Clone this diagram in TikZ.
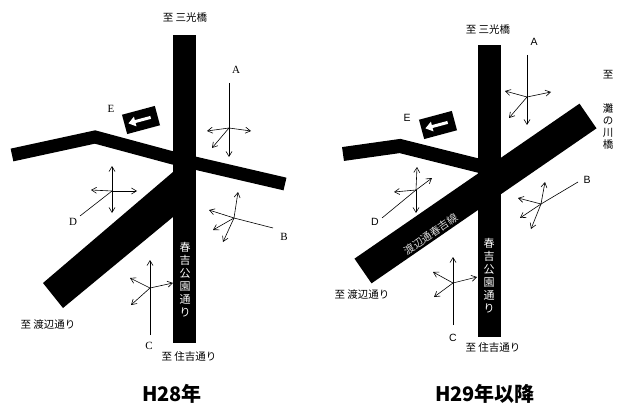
\documentclass[tikz,border=0pt]{standalone}
\usepackage{fontspec}
\setmainfont{Liberation Serif}
\newfontfamily\jp{Noto Sans CJK JP}
\newfontfamily\sansf{Liberation Sans}
\usetikzlibrary{arrows.meta}
\tikzset{
  road/.style={line width=#1, line join=miter, draw=black},
  arr/.style={-{Straight Barb[length=5pt,width=6pt]}, line width=0.6pt},
  ln/.style={line width=0.6pt},
  lab/.style={font=\jp\fontsize{10.5}{12}\selectfont, inner sep=1pt},
  let/.style={font=\fontsize{11}{12}\selectfont, inner sep=1pt},
  lets/.style={font=\sansf\fontsize{10.5}{12}\selectfont, inner sep=1pt},
  wv/.style={font=\jp\fontsize{11}{13}\selectfont, text=white, align=center, inner sep=0pt},
  ttl/.style={font=\jp\bfseries\fontsize{20}{24}\selectfont, inner sep=0pt},
}
\begin{document}
\begin{tikzpicture}[x=1pt,y=-1pt]
\useasboundingbox (0,0) rectangle (630,420);
% ===== Left diagram =====
\draw[road=13pt] (12,155) -- (95,137) -- (173,158) -- (285,184);
\fill (173,172) -- (173,217) -- (63,308) -- (43,283) -- cycle;
\fill (173,35) rectangle (196,343);
\node[wv] (lroad) at (185,280) {春\\吉\\公\\園\\通\\り};
% E sign
\begin{scope}[shift={(141,120)},rotate=15]
\fill (-17,-10) rectangle (17,10);
\fill[white] (-9,-1.5) rectangle (10,1.5);
\fill[white] (-13,0) -- (-6,-5) -- (-6,5) -- cycle;
\end{scope}
\node[let] (lE) at (111,109) {E};
\node[let] (lA) at (236,70) {A};
\node[let] (lB) at (284,237) {B};
\node[let] (lC) at (149,346) {C};
\node[let] (lD) at (73,222) {D};
\node[lab] (l1) at (185,18) {至 三光橋};
\node[lab] (l2) at (48,325) {至 渡辺通り};
\node[lab] (l3) at (189,357) {至 住吉通り};
% A
\coordinate (lAc) at (229,128); \coordinate (lAs) at (229,83);
\draw[ln] (lAs) -- (lAc);
\draw[arr] (lAc) -- (229,157);
\draw[arr] (lAc) -- (207,131);
\draw[arr] (lAc) -- (251,131);
\draw[arr] (lAc) -- (212,148);
% B
\coordinate (lBc) at (234,218); \coordinate (lBs) at (273,228);
\draw[ln] (lBs) -- (lBc);
\draw[arr] (lBc) -- (209,210);
\draw[arr] (lBc) -- (238,192);
\draw[arr] (lBc) -- (213,230);
\draw[arr] (lBc) -- (223,242);
% C
\coordinate (lCc) at (150,288); \coordinate (lCs) at (150,335);
\draw[ln] (lCs) -- (lCc);
\draw[arr] (lCc) -- (150,260);
\draw[arr] (lCc) -- (130,278);
\draw[arr] (lCc) -- (173,283);
\draw[arr] (lCc) -- (131,305);
% D
\coordinate (lDc) at (112,191); \coordinate (lDs) at (80,216);
\draw[ln] (lDs) -- (lDc);
\draw[arr] (lDc) -- (112,166);
\draw[arr] (lDc) -- (112,213);
\draw[arr] (lDc) -- (91,190);
\draw[arr] (lDc) -- (137,191);
\node[ttl] (t1) at (172,394) {H28年};
% ===== Right diagram =====
\draw[road=14pt] (343,154) -- (400,146) -- (480,166);
\fill (478,45) rectangle (501,337);
\draw[road=30pt] (363,271) -- (588,116);
\node[rotate=35, font=\jp\fontsize{10.5}{12}\selectfont, text=white!85!black, inner sep=0pt] (rdiag) at (431,234) {渡辺通春吉線};
\node[wv] (rroad) at (489,276) {春\\吉\\公\\園\\通\\り};
\begin{scope}[shift={(438,125)},rotate=15]
\fill (-17,-10) rectangle (17,10);
\fill[white] (-9,-1.5) rectangle (10,1.5);
\fill[white] (-13,0) -- (-6,-5) -- (-6,5) -- cycle;
\end{scope}
\node[lets] (rE) at (407,118) {E};
\node[lets] (rA) at (534,42) {A};
\node[lets] (rB) at (587,180) {B};
\node[lets] (rC) at (453,338) {C};
\node[lets] (rD) at (375,222) {D};
\node[lab] (r1) at (488,30) {至 三光橋};
\node[lab] (r2) at (362,295) {至 渡辺通り};
\node[lab] (r3) at (493,348) {至 住吉通り};
\node[lab] (r4) at (608,75) {至};
\node[lab, align=center] (r5) at (608,127) {灘\\の\\川\\橋};
% A
\coordinate (rAc) at (527,97); \coordinate (rAs) at (527,55);
\draw[ln] (rAs) -- (rAc);
\draw[arr] (rAc) -- (527,125);
\draw[arr] (rAc) -- (505,91);
\draw[arr] (rAc) -- (551,92);
\draw[arr] (rAc) -- (509,118);
% B
\coordinate (rBc) at (541,204); \coordinate (rBs) at (578,182);
\draw[ln] (rBs) -- (rBc);
\draw[arr] (rBc) -- (520,218);
\draw[arr] (rBc) -- (518,198);
\draw[arr] (rBc) -- (545,182);
\draw[arr] (rBc) -- (531,229);
% C
\coordinate (rCc) at (453,283); \coordinate (rCs) at (453,325);
\draw[ln] (rCs) -- (rCc);
\draw[arr] (rCc) -- (453,257);
\draw[arr] (rCc) -- (433,272);
\draw[arr] (rCc) -- (477,277);
\draw[arr] (rCc) -- (434,297);
% D
\coordinate (rDc) at (416,190); \coordinate (rDs) at (382,218);
\draw[ln] (rDs) -- (rDc);
\draw[arr] (rDc) -- (432,178);
\draw[arr] (rDc) -- (417,167);
\draw[arr] (rDc) -- (416,213);
\draw[arr] (rDc) -- (394,192);
\node[ttl] (t2) at (485,394) {H29年以降};
\end{tikzpicture}
\end{document}
